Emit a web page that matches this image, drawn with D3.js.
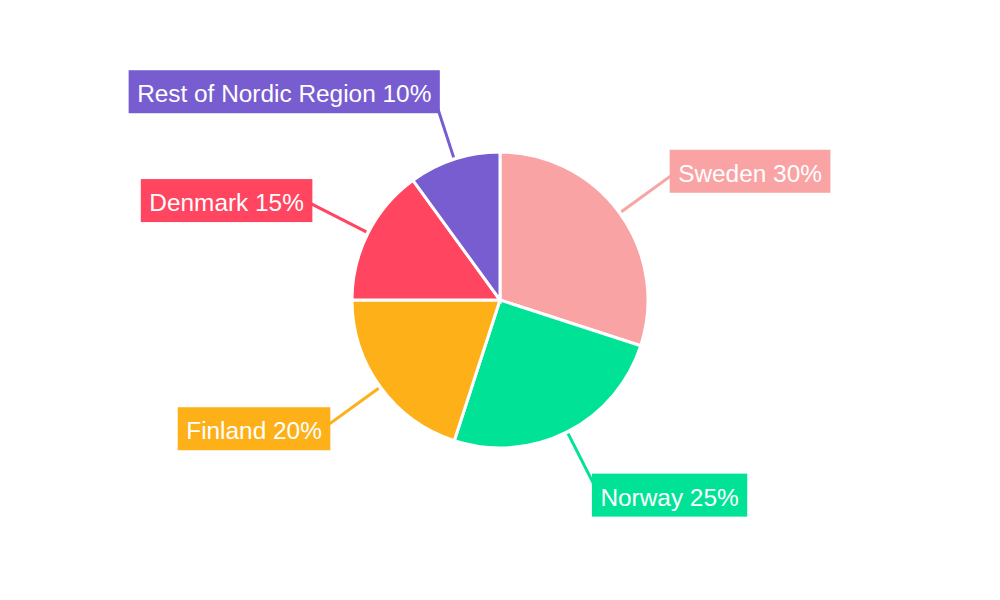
<html>
<script src="https://d3js.org/d3.v7.min.js"></script>
<body style="margin:0;background:#fff">
<svg height="600" width="1000" id="chart"></svg>
<script>

// Slices, clockwise from twelve o'clock
var regions = ["Sweden", "Norway", "Finland", "Denmark", "Rest of Nordic Region"];
var shares = [30, 25, 20, 15, 10];
var sliceColors = ["#F9A3A4", "#00E396", "#FEB019", "#FF4560", "#775DD0"];

var svg = d3.select("#chart");

var cx = 500, cy = 300, radius = 148;
// leader line runs from lineStart into the label box (box is drawn on top)
var lineStart = 150, labelAnchor = 205, lineEnd = 215;

var g = svg.append("g").attr("transform", "translate(" + cx + "," + cy + ")");

var pie = d3.pie().sort(null).value(function(d) { return d; });
var arcs = pie(shares);

var arc = d3.arc().innerRadius(0).outerRadius(radius);

// slices
g.selectAll("path.slice")
  .data(arcs)
  .enter().append("path")
  .attr("class", "slice")
  .attr("d", arc)
  .style("fill", function(d, i) { return sliceColors[i]; })
  .style("stroke", "#fff")
  .style("stroke-width", 3);

var midAngle = function(d) { return (d.startAngle + d.endAngle) / 2; };

// point on the mid-angle of a slice at radius r
var pointAt = function(d, r) {
  var a = midAngle(d);
  return [r * Math.sin(a), -r * Math.cos(a)];
};

// leader lines
g.selectAll("line.leader")
  .data(arcs)
  .enter().append("line")
  .attr("class", "leader")
  .attr("x1", function(d) { return pointAt(d, lineStart)[0]; })
  .attr("y1", function(d) { return pointAt(d, lineStart)[1]; })
  .attr("x2", function(d) { return pointAt(d, lineEnd)[0]; })
  .attr("y2", function(d) { return pointAt(d, lineEnd)[1]; })
  .style("stroke", function(d, i) { return sliceColors[i]; })
  .style("stroke-width", 3);

// labels: box sits beside the end of the leader line,
// nudged sideways and up/down a little depending on the angle
var boxH = 43, padX = 8.5;
arcs.forEach(function(d, i) {
  var p = pointAt(d, labelAnchor);
  var s = Math.sin(midAngle(d)), c = Math.cos(midAngle(d));
  var gap = 14 * Math.abs(s) - 7.5;
  var lg = g.append("g");
  var rect = lg.append("rect").style("fill", sliceColors[i]);
  var txt = lg.append("text")
    .text(regions[i] + " " + shares[i] + "%")
    .style("font-family", "'Liberation Sans', Arial, sans-serif")
    .style("font-size", "24.4px")
    .style("fill", "#fff");
  var w = txt.node().getComputedTextLength() + padX * 2;
  var x0 = s >= 0 ? p[0] + gap : p[0] - gap - w;
  var yc = p[1] - c * 14;
  var y0 = yc - boxH / 2;
  rect.attr("x", x0).attr("y", y0).attr("width", w).attr("height", boxH);
  txt.attr("x", x0 + padX).attr("y", yc + 10.5);
});

</script>
</body>
</html>
